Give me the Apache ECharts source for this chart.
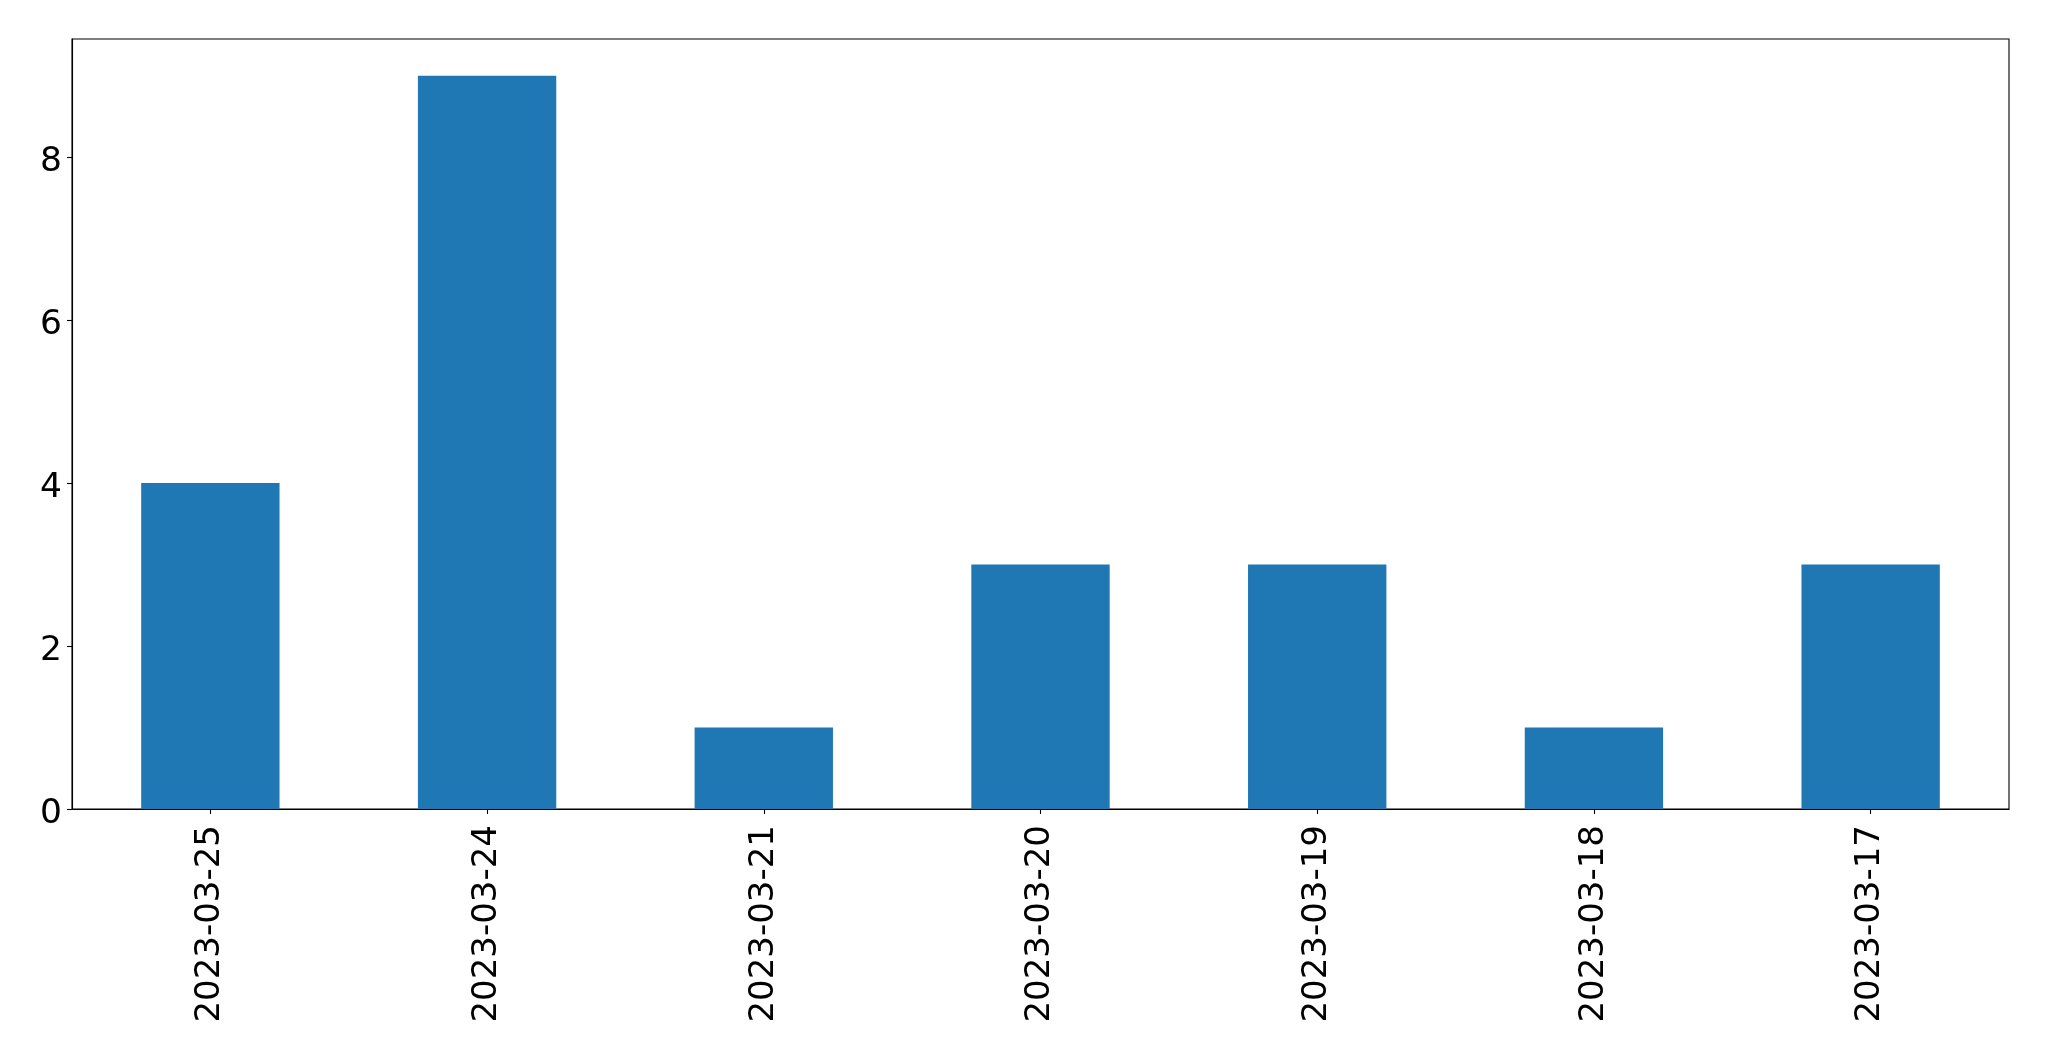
<!DOCTYPE html>
<html>
<head>
<meta charset="utf-8">
<script src="https://cdn.jsdelivr.net/npm/echarts@6/dist/echarts.min.js"></script>
<style>
html,body{margin:0;padding:0;background:#fff;}
#chart{width:2049px;height:1061px;}
</style>
</head>
<body>
<div id="chart"></div>
<script>
const categories = ["2023-03-25","2023-03-24","2023-03-21","2023-03-20","2023-03-19","2023-03-18","2023-03-17"];
const values = [4, 9, 1, 3, 3, 1, 3];
const yTicks = [0, 2, 4, 6, 8];

const chart = echarts.init(document.getElementById('chart'), null, {renderer: 'canvas'});
const font = 'DejaVu Sans';
chart.setOption({
  animation: false,
  backgroundColor: '#ffffff',
  grid: {
    left: 72, right: 40, top: 39, bottom: 252,
    show: true, borderColor: '#000', borderWidth: 1.1, backgroundColor: 'transparent'
  },
  xAxis: {
    type: 'category',
    data: categories,
    boundaryGap: true,
    axisLine: {show: true, lineStyle: {color: '#000', width: 1.1}},
    axisTick: {show: true, alignWithLabel: true, length: 5, lineStyle: {color: '#000', width: 1.1}},
    axisLabel: {rotate: 90, fontFamily: font, fontSize: 34, color: '#000', margin: 16, interval: 0},
    splitLine: {show: false}
  },
  yAxis: {
    type: 'value',
    min: 0, max: 9.45,
    axisLine: {show: true, lineStyle: {color: '#000', width: 1.1}},
    axisTick: {show: true, length: 5, customValues: yTicks, lineStyle: {color: '#000', width: 1.1}},
    axisLabel: {
      color: '#000', margin: 10,
      customValues: yTicks,
      formatter: function (v) { return '{t|' + v + '}'; },
      rich: {
        t: {fontFamily: font, fontSize: 34.5, color: '#000', padding: [10, 0, 0, 0]}
      }
    },
    splitLine: {show: false}
  },
  series: [{
    type: 'bar',
    data: values,
    barWidth: '50%',
    itemStyle: {color: '#1f77b4'}
  }]
});
</script>
</body>
</html>
